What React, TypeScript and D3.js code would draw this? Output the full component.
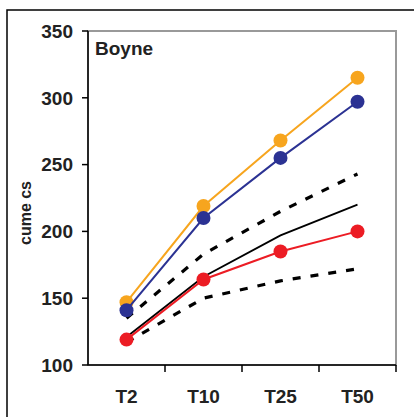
import React from "react";
import * as d3 from "d3";

const categories = ["T2", "T10", "T25", "T50"];
const orange = [147, 219, 268, 315];
const blue = [141, 210, 255, 297];
const red = [119, 164, 185, 200];
const blackSolid = [121, 166, 197, 220];
const dashUpper = [135, 183, 215, 243];
const dashLower = [117, 150, 163, 172];
const yTicks = [100, 150, 200, 250, 300, 350];

export default function App() {
  const W = 414, H = 417;
  const left = 88, right = 396, top = 31, bottom = 365;
  const x = d3.scaleBand<string>().domain(categories).range([left, right]);
  const y = d3.scaleLinear().domain([100, 350]).range([bottom, top]);
  const cx = (c: string) => (x(c) as number) + x.bandwidth() / 2;
  const line = d3.line<number>().x((_, i) => cx(categories[i])).y((d) => y(d));
  const font = "'Liberation Sans', Arial, sans-serif";

  const series = [
    { vals: orange, color: "#F7A51E" },
    { vals: blue, color: "#2B3293" },
    { vals: red, color: "#EC1C24" },
  ];

  return (
    <svg width={W} height={H} style={{ position: "absolute", left: 0, top: 0 }} fontFamily={font}>
      <rect x={0} y={0} width={W} height={H} fill="#fff" />
      <rect x={7} y={10} width={430} height={430} fill="none" stroke="#000" strokeWidth={1.5} />
      <rect x={left} y={top} width={right - left} height={bottom - top} fill="#fff" stroke="#999" strokeWidth={2} />
      <line x1={left} y1={top} x2={left} y2={bottom} stroke="#000" strokeWidth={1.5} />
      <line x1={left} y1={bottom} x2={right} y2={bottom} stroke="#000" strokeWidth={1.5} />
      {yTicks.map((t) => (
        <g key={t}>
          <line x1={left - 6} x2={left} y1={y(t)} y2={y(t)} stroke="#000" strokeWidth={1.5} />
          <text x={73} y={y(t)} dy="0.36em" textAnchor="end" fontSize={19} fontWeight="bold" fill="#222">
            {t}
          </text>
        </g>
      ))}
      {categories.map((c) => (
        <g key={c}>
          <line x1={(x(c) as number) + x.bandwidth()} x2={(x(c) as number) + x.bandwidth()} y1={bottom} y2={bottom + 7} stroke="#000" strokeWidth={1.5} />
          <text x={cx(c)} y={403} textAnchor="middle" fontSize={19} fontWeight="bold" fill="#222">
            {c}
          </text>
        </g>
      ))}
      <text transform={`translate(31,213) rotate(-90)`} textAnchor="middle" fontSize={16} fontWeight="bold" fill="#222">
        cume cs
      </text>
      <text x={95} y={55} fontSize={19} fontWeight="bold" fill="#222">Boyne</text>

      <path d={line(dashUpper) || ""} fill="none" stroke="#000" strokeWidth={3.2} strokeDasharray="8,10" />
      <path d={line(dashLower) || ""} fill="none" stroke="#000" strokeWidth={3.2} strokeDasharray="8,10" />
      <path d={line(blackSolid) || ""} fill="none" stroke="#000" strokeWidth={1.8} />
      {series.map((s, k) => (
        <g key={k}>
          <path d={line(s.vals) || ""} fill="none" stroke={s.color} strokeWidth={2} />
          {s.vals.map((v, i) => (
            <circle key={i} cx={cx(categories[i])} cy={y(v)} r={7} fill={s.color} />
          ))}
        </g>
      ))}
    </svg>
  );
}
